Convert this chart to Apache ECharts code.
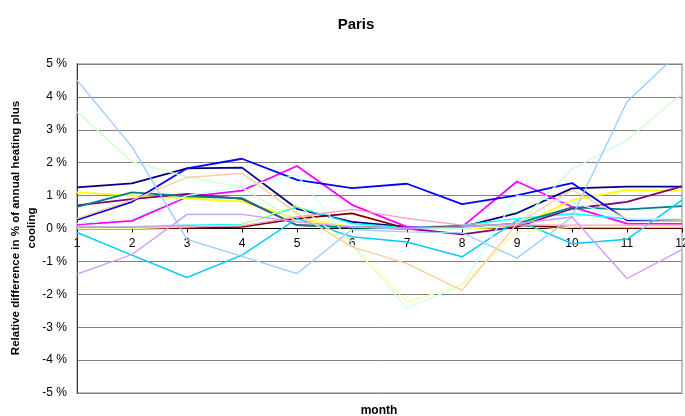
<!DOCTYPE html>
<html>
<head>
<meta charset="utf-8">
<script src="https://cdn.jsdelivr.net/npm/echarts@6/dist/echarts.min.js"></script>
<style>
  html, body { margin: 0; padding: 0; background: #fff; }
  #chart { width: 685px; height: 416px; }
</style>
</head>
<body>
<div id="chart"></div>
<script>
  // months on the x axis
  var months = ['1', '2', '3', '4', '5', '6', '7', '8', '9', '10', '11', '12'];
  var yTicks = [-5, -4, -3, -2, -1, 0, 1, 2, 3, 4, 5];

  // one array per curve, values in %
  var sNavy      = [1.25, 1.37, 1.83, 1.85, 0.6, 0.2, 0.05, 0.05, 0.47, 1.22, 1.27, 1.27];
  var sMagenta   = [0.12, 0.23, 0.96, 1.15, 1.9, 0.72, 0.05, 0.05, 1.43, 0.66, 0.15, 0.14];
  var sYellow    = [1.1, 1.0, 0.92, 0.82, 0.3, 0.05, 0.0, 0.0, 0.05, 0.86, 1.17, 1.15];
  var sCyan      = [0.05, 0.05, 0.1, 0.12, 0.65, 0.15, 0.02, 0.1, 0.3, 0.45, 0.3, 0.3];
  var sPurple    = [0.7, 0.89, 1.05, 0.9, 0.1, 0.05, 0.0, -0.18, 0.05, 0.6, 0.81, 1.28];
  var sDarkRed   = [0.0, 0.0, 0.02, 0.05, 0.3, 0.46, 0.0, 0.07, 0.1, 0.02, 0.02, 0.02];
  var sTeal      = [0.66, 1.1, 0.98, 0.92, 0.1, 0.03, 0.0, 0.05, 0.15, 0.64, 0.58, 0.68];
  var sBlue      = [0.26, 0.81, 1.83, 2.12, 1.48, 1.23, 1.36, 0.74, 1.01, 1.38, 0.25, 0.25];
  var sSkyBlue   = [-0.12, -0.81, -1.49, -0.81, 0.3, -0.25, -0.41, -0.86, 0.25, -0.46, -0.33, 0.86];
  var sLightTurq = [0.15, 0.3, 1.0, 1.27, 1.62, -0.45, -2.43, -1.72, 1.0, 0.8, 0.3, 0.3];
  var sLightGrn  = [3.55, 2.03, 1.57, 1.25, 0.2, 0.05, 0.0, 0.0, 0.12, 1.8, 2.69, 4.1];
  var sLightYel  = [0.0, 0.0, 0.05, 0.1, 0.72, -0.55, -2.23, -1.72, -0.1, 0.04, 0.04, 0.04];
  var sPaleBlue  = [4.51, 2.48, -0.33, -0.85, -1.37, -0.03, -0.1, -0.13, -0.9, 0.35, 3.85, 5.43];
  var sRose      = [0.05, 0.05, 0.05, 0.08, 0.35, 0.58, 0.31, 0.1, 0.1, 0.1, 0.1, 0.1];
  var sLavender  = [-1.39, -0.79, 0.43, 0.43, 0.2, 0.05, 0.0, 0.05, 0.15, 0.35, -1.52, -0.64];
  var sTan       = [0.3, 0.86, 1.55, 1.68, 0.46, -0.56, -1.07, -1.88, 0.15, 1.17, 0.28, 0.25];

  var curves = [
    { data: sNavy, color: '#000080', w: 1.8 },
    { data: sMagenta, color: '#FF00FF', w: 1.8 },
    { data: sYellow, color: '#FFFF00', w: 1.8 },
    { data: sCyan, color: '#00FFFF', w: 1.5 },
    { data: sPurple, color: '#800080', w: 1.8 },
    { data: sDarkRed, color: '#800000', w: 1.8 },
    { data: sTeal, color: '#008080', w: 1.8 },
    { data: sBlue, color: '#0000FF', w: 1.8 },
    { data: sSkyBlue, color: '#00CCFF', w: 1.5 },
    { data: sLightTurq, color: '#CCFFFF', w: 1.3 },
    { data: sLightGrn, color: '#CCFFCC', w: 1.3 },
    { data: sLightYel, color: '#FFFF99', w: 1.3 },
    { data: sPaleBlue, color: '#99CCFF', w: 1.3 },
    { data: sRose, color: '#FF99CC', w: 1.3 },
    { data: sLavender, color: '#CC99FF', w: 1.3 },
    { data: sTan, color: '#FFCC99', w: 1.3 }
  ];

  var myChart = echarts.init(document.getElementById('chart'));
  var font = 'Liberation Sans, Arial, sans-serif';

  myChart.setOption({
    backgroundColor: '#fff',
    animation: false,
    title: {
      text: 'Paris',
      left: 351,
      top: 12,
      textAlign: 'center',
      textStyle: { fontFamily: font, fontSize: 15, fontWeight: 'bold', color: '#000' }
    },
    grid: {
      left: 77,
      right: 3,
      top: 64,
      bottom: 23,
      containLabel: false,
      outerBoundsMode: 'none',
      show: true,
      borderColor: '#c0c0c0',
      borderWidth: 2,
      backgroundColor: '#fff'
    },
    xAxis: {
      type: 'category',
      boundaryGap: false,
      data: months,
      axisLine: { onZero: true, lineStyle: { color: '#000', width: 1 } },
      axisTick: { show: true, length: 4, lineStyle: { color: '#000' } },
      // labels stay at the grid bottom in v6, pull them up under the zero line
      axisLabel: { margin: -155, fontFamily: font, fontSize: 12, color: '#000', alignMaxLabel: 'center', hideOverlap: false },
      splitLine: { show: false }
    },
    yAxis: {
      type: 'value',
      min: yTicks[0],
      max: yTicks[yTicks.length - 1],
      interval: 1,
      axisLine: { show: true, lineStyle: { color: '#404040', width: 1 } },
      axisTick: { show: false },
      axisLabel: {
        margin: 10,
        fontFamily: font,
        fontSize: 12,
        color: '#000',
        formatter: function (v) { return v + ' %'; }
      },
      splitLine: { show: true, lineStyle: { color: '#808080', width: 1 } }
    },
    graphic: [
      {
        type: 'text',
        x: 24,
        y: 228,
        rotation: Math.PI / 2,
        style: {
          text: 'Relative difference in % of annual heating plus\ncooling',
          fontFamily: font,
          fontSize: 11.5,
          fontWeight: 'bold',
          fill: '#000',
          align: 'center',
          verticalAlign: 'middle',
          lineHeight: 16
        }
      },
      {
        type: 'text',
        x: 379,
        y: 405,
        style: {
          text: 'month',
          fontFamily: font,
          fontSize: 12,
          fontWeight: 'bold',
          fill: '#000',
          align: 'center',
          verticalAlign: 'top'
        }
      }
    ],
    series: curves.map(function (c) {
      return {
        type: 'line',
        data: c.data,
        symbol: 'none',
        clip: true,
        lineStyle: { color: c.color, width: c.w },
        itemStyle: { color: c.color }
      };
    })
  });
</script>
</body>
</html>
